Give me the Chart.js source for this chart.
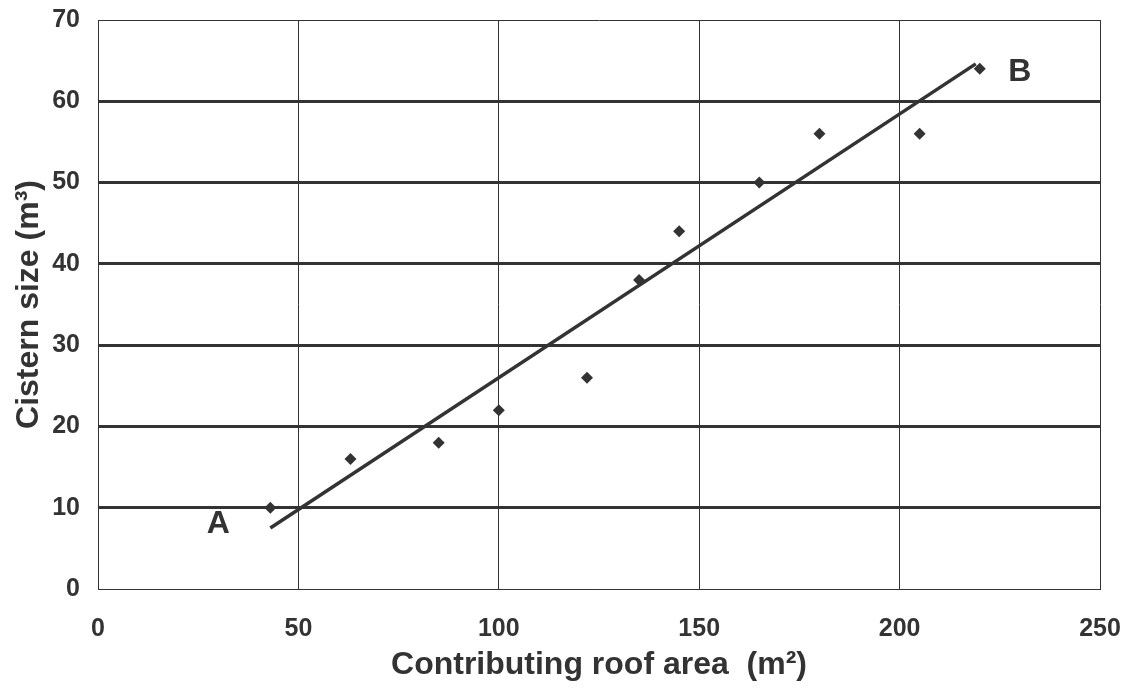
<!DOCTYPE html>
<html>
<head>
<meta charset="utf-8">
<script src="https://cdn.jsdelivr.net/npm/chart.js@4/dist/chart.umd.min.js"></script>
<style>
  html, body { margin: 0; padding: 0; background: #fff; }
  #wrap { width: 1133px; height: 691px; }
</style>
</head>
<body>
<div id="wrap"><canvas id="chart" width="1133" height="691"></canvas></div>
<script>
'use strict';
// measured points: roof area (m2) vs cistern size (m3)
const roofArea = [43, 63, 85, 100, 122, 135, 145, 165, 180, 205, 220];
const cisternSize = [10, 16, 18, 22, 26, 38, 44, 50, 56, 56, 64];
// fitted line, end points A and B
const fitX = [43, 219];
const fitY = [7.5, 64.6];
const pointLabels = ['A', 'B'];
const labelX = [30, 230];
const labelY = [8, 63.6];

const ink = '#333333';
const fontFam = '"Liberation Sans", Arial, sans-serif';

// draws the A / B letters at data positions
const letterPlugin = {
    id: 'letters',
    afterDatasetsDraw(chart) {
        const ctx = chart.ctx;
        const xs = chart.scales.x, ys = chart.scales.y;
        ctx.save();
        ctx.fillStyle = ink;
        ctx.font = 'bold 32px ' + fontFam;
        ctx.textAlign = 'center';
        ctx.textBaseline = 'middle';
        pointLabels.forEach((t, i) => {
            ctx.fillText(t, xs.getPixelForValue(labelX[i]), ys.getPixelForValue(labelY[i]));
        });
        ctx.restore();
    }
};

const ctx = document.getElementById('chart').getContext('2d');
new Chart(ctx, {
    type: 'scatter',
    data: {
        datasets: [{
            label: 'data',
            data: roofArea.map((x, i) => ({x: x, y: cisternSize[i]})),
            pointStyle: 'rectRot',
            pointRadius: 6,
            backgroundColor: ink,
            borderColor: ink,
            borderWidth: 0
        }, {
            label: 'fit',
            type: 'line',
            data: fitX.map((x, i) => ({x: x, y: fitY[i]})),
            borderColor: ink,
            borderWidth: 3.5,
            pointRadius: 0,
            fill: false
        }]
    },
    options: {
        responsive: false,
        animation: false,
        layout: { padding: { top: 20, right: 33, left: 0, bottom: 0 } },
        plugins: {
            legend: { display: false },
            tooltip: { enabled: false }
        },
        scales: {
            x: {
                type: 'linear',
                min: 0, max: 250,
                afterFit(scale) {
                    scale.height = 102;
                    scale.paddingLeft = 0;
                    scale.paddingRight = 0;
                },
                ticks: {
                    stepSize: 50,
                    padding: 25,
                    color: ink,
                    font: { family: fontFam, size: 25, weight: 'bold' }
                },
                grid: { color: ink, lineWidth: 1, drawTicks: false },
                border: { color: ink, width: 1 },
                title: {
                    display: true,
                    text: 'Contributing roof area  (m²)',
                    color: ink,
                    padding: { top: 0, bottom: 7 },
                    font: { family: fontFam, size: 32, weight: 'bold' }
                }
            },
            y: {
                min: 0, max: 70,
                afterFit(scale) {
                    scale.width = 98;
                    scale.paddingTop = 0;
                    scale.paddingBottom = 0;
                },
                ticks: {
                    stepSize: 10,
                    padding: 18,
                    color: ink,
                    font: { family: fontFam, size: 25, weight: 'bold' }
                },
                grid: {
                    color: ink,
                    drawTicks: false,
                    lineWidth: c => (c.tick && (c.tick.value === 0 || c.tick.value === 70)) ? 1 : 3
                },
                border: { color: ink, width: 1 },
                title: {
                    display: true,
                    text: 'Cistern size (m³)',
                    color: ink,
                    padding: { top: 10, bottom: 0 },
                    font: { family: fontFam, size: 32, weight: 'bold' }
                }
            }
        }
    },
    plugins: [letterPlugin]
});
</script>
</body>
</html>
